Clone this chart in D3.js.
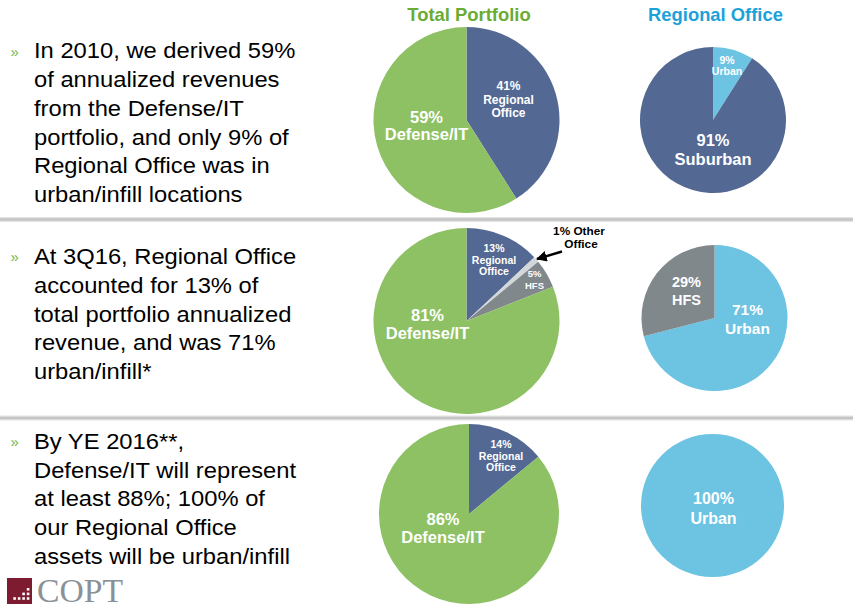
<!DOCTYPE html>
<html><head><meta charset="utf-8">
<script src="https://cdn.jsdelivr.net/npm/d3@7"></script>
<style>html,body{margin:0;padding:0;background:#fff;}svg{display:block;}</style>
</head><body>
<svg id="c" width="855" height="609"></svg>
<script>
// ---- data ----
const columnTitles = ["Total Portfolio", "Regional Office"];
const bulletLines = [
  ["In 2010, we derived 59%", "of annualized revenues", "from the Defense/IT", "portfolio, and only 9% of", "Regional Office was in", "urban/infill locations"],
  ["At 3Q16, Regional Office", "accounted for 13% of", "total portfolio annualized", "revenue, and was 71%", "urban/infill*"],
  ["By YE 2016**,", "Defense/IT will represent", "at least 88%; 100% of", "our Regional Office", "assets will be urban/infill"]
];
const totalCategories = [
  ["Regional Office", "Defense/IT"],
  ["Regional Office", "Other Office", "HFS", "Defense/IT"],
  ["Regional Office", "Defense/IT"]
];
const totalValues = [[41, 59], [13, 1, 5, 81], [14, 86]];
const regionalCategories = [["Urban", "Suburban"], ["Urban", "HFS"], ["Urban"]];
const regionalValues = [[9, 91], [71, 29], [100]];

// ---- styles / layout ----
const colors = {
  "Regional Office": "#536893", "Defense/IT": "#8dc163", "Other Office": "#d3d7da",
  "HFS": "#80888c", "Urban": "#6cc3e2", "Suburban": "#536893"
};
// label layout per pie slice: [dx, dy(baseline of first line), fontSize, lineGap] relative to pie center
const totalPies = [
  {cx: 466.5, cy: 120, r: 93, labels: [[42, -30, 12, 13.5], [-40, 3, 16.5, 17]]},
  {cx: 466.5, cy: 321, r: 93, labels: [[27.5, -69, 10.5, 11.5], null, [68, -44, 9.5, 11.5], [-39, 0, 16.5, 18]]},
  {cx: 469, cy: 514, r: 90, labels: [[32, -66, 10.5, 11.5], [-26, 11, 16.5, 18]]}
];
const regionalPies = [
  {cx: 713, cy: 120, r: 73, labels: [[14, -56.5, 10.5, 11.5], [0, 26, 16.5, 19]]},
  {cx: 714.5, cy: 318, r: 73, labels: [[33, -3, 15.5, 18.5], [-28, -31, 14.5, 17.5]]},
  {cx: 712.5, cy: 505.5, r: 71.5, labels: [[1, -1.5, 16, 19.5]]}
];
const blockBaselines = [58.5, 264.3, 449];
const lineStep = 28.7;

const svg = d3.select("#c");
svg.append("rect").attr("width", 855).attr("height", 609).attr("fill", "#fff");

// separators
[219.5, 418].forEach(y => {
  svg.append("rect").attr("x", 0).attr("y", y - 2.5).attr("width", 853).attr("height", 5).attr("fill", "#e3e3e3");
  svg.append("rect").attr("x", 0).attr("y", y - 1.2).attr("width", 853).attr("height", 2.4).attr("fill", "#c4c4c4");
});

// column titles
const titleX = [469, 715.5], titleCol = ["#6aac34", "#1ba2d9"];
columnTitles.forEach((t, i) => {
  svg.append("text").attr("x", titleX[i]).attr("y", 21).attr("text-anchor", "middle")
    .attr("font-family", "Liberation Sans, Arial, sans-serif").attr("font-weight", "bold")
    .attr("font-size", 18.4).attr("fill", titleCol[i]).text(t);
});

// bullet text
bulletLines.forEach((lines, b) => {
  svg.append("text").attr("x", 10.5).attr("y", blockBaselines[b] - 2)
    .attr("font-family", "Liberation Sans, Arial, sans-serif").attr("font-size", 15)
    .attr("fill", "#79b443").text("»");
  const g = svg.append("g").attr("transform", `translate(34,0) scale(1.08,1)`);
  lines.forEach((ln, i) => {
    g.append("text").attr("x", 0).attr("y", blockBaselines[b] + i * lineStep)
      .attr("font-family", "Liberation Sans, Arial, sans-serif").attr("font-size", 22)
      .attr("fill", "#000").text(ln);
  });
});

const pie = d3.pie().sort(null).value(d => d.v);
const arcGen = d3.arc().innerRadius(0);

function drawPie(cfg, cats, vals) {
  const data = cats.map((c, i) => ({c, v: vals[i]}));
  const g = svg.append("g").attr("transform", `translate(${cfg.cx},${cfg.cy})`);
  const arcs = pie(data);
  g.selectAll("path").data(arcs).join("path")
    .attr("d", d => arcGen.outerRadius(cfg.r)(d))
    .attr("fill", d => colors[d.data.c]);
  arcs.forEach((a, i) => {
    const L = cfg.labels[i];
    if (!L) return;
    const words = a.data.c.split(" ");
    const lines = [a.data.v + "%"].concat(L[2] < 13 ? words : [a.data.c]);
    const t = g.append("text").attr("text-anchor", "middle")
      .attr("font-family", "Liberation Sans, Arial, sans-serif").attr("font-weight", "bold")
      .attr("font-size", L[2]).attr("fill", "#fff");
    lines.forEach((ln, j) => {
      t.append("tspan").attr("x", L[0]).attr("y", L[1] + j * L[3]).text(ln);
    });
  });
  return g;
}

totalPies.forEach((cfg, i) => drawPie(cfg, totalCategories[i], totalValues[i]));
regionalPies.forEach((cfg, i) => drawPie(cfg, regionalCategories[i], regionalValues[i]));

// callout for the 1% slice
const small = totalCategories[1].indexOf("Other Office");
const callout = svg.append("text").attr("text-anchor", "middle")
  .attr("font-family", "Liberation Sans, Arial, sans-serif").attr("font-weight", "bold")
  .attr("font-size", 11.8).attr("fill", "#000");
callout.append("tspan").attr("x", 579).attr("y", 235).text(totalValues[1][small] + "% Other");
callout.append("tspan").attr("x", 581).attr("y", 248).text("Office");

svg.append("defs").append("marker").attr("id", "ah").attr("viewBox", "0 0 10 10")
  .attr("refX", 9).attr("refY", 5).attr("markerWidth", 4.5).attr("markerHeight", 4.5)
  .attr("orient", "auto").append("path").attr("d", "M0,0L10,5L0,10z").attr("fill", "#000");
svg.append("line").attr("x1", 562).attr("y1", 251.5).attr("x2", 537).attr("y2", 259)
  .attr("stroke", "#000").attr("stroke-width", 2.4).attr("marker-end", "url(#ah)");

// logo
svg.append("rect").attr("x", 7).attr("y", 578).attr("width", 25).attr("height", 26).attr("fill", "#7d1b31");
const dotRows = [[28], [23.5, 28], [14.5, 19, 23.5, 28]];
dotRows.forEach((row, ri) => row.forEach(x => {
  svg.append("rect").attr("x", x - 1.2).attr("y", 588 + ri * 4.6).attr("width", 2.6).attr("height", 2.6).attr("fill", "#fff");
}));
svg.append("text").attr("x", 37).attr("y", 601.5)
  .attr("font-family", "Liberation Serif, Times New Roman, serif").attr("font-size", 34)
  .attr("textLength", 86).attr("lengthAdjust", "spacingAndGlyphs")
  .attr("fill", "#8a9297").text("COPT");
</script>
</body></html>
